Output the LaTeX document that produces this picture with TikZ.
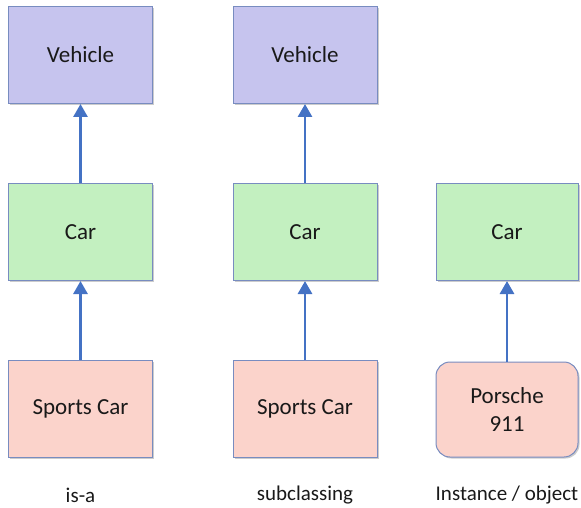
\documentclass[tikz,border=0pt]{standalone}
\usepackage{fontspec}
\setmainfont{Carlito}
\usetikzlibrary{arrows.meta,shadows}
\definecolor{vehfill}{RGB}{198,196,238}
\definecolor{carfill}{RGB}{195,240,192}
\definecolor{sportfill}{RGB}{251,211,203}
\definecolor{boxline}{RGB}{120,140,192}
\definecolor{arrowblue}{RGB}{68,114,196}
\definecolor{txt}{RGB}{25,25,25}
\tikzset{
  box/.style={draw=boxline, line width=1pt, minimum width=144pt, minimum height=97pt,
    inner sep=0pt, text=txt, font=\fontsize{23}{28}\selectfont, align=center,
    drop shadow={shadow xshift=1.5pt, shadow yshift=-1.5pt, fill=black!40, opacity=0.5}},
  veh/.style={box, fill=vehfill},
  car/.style={box, fill=carfill},
  sport/.style={box, fill=sportfill},
  inst/.style={box, fill=sportfill, rounded corners=14pt, minimum width=142pt, minimum height=95pt},
  conn/.style={draw=arrowblue, line width=2.8pt, -{Triangle[length=13pt,width=14pt]}},
  captext/.style={text=txt, font=\fontsize{21}{25}\selectfont}
}
\begin{document}
\begin{tikzpicture}[x=1pt,y=-1pt]
\useasboundingbox (0,0) rectangle (581,508);
\node[veh] (v1) at (80.5,55) {Vehicle};
\node[car] (c1) at (80.5,232) {Car};
\node[sport] (s1) at (80.5,409) {Sports Car};
\node[veh] (v2) at (305,55) {Vehicle};
\node[car] (c2) at (305,232) {Car};
\node[sport] (s2) at (305,409) {Sports Car};
\node[car, minimum width=142pt] (c3) at (507,232) {Car};
\node[inst] (p3) at (507,409.5) {Porsche\\911};
\draw[conn] (c1.north) -- (v1.south);
\draw[conn] (s1.north) -- (c1.south);
\draw[conn] (c2.north) -- (v2.south);
\draw[conn] (s2.north) -- (c2.south);
\draw[conn] (p3.north) -- (c3.south);
\node[captext] (l1) at (80.5,495) {is-a};
\node[captext] (l2) at (305,495) {subclassing};
\node[captext] (l3) at (507,495) {Instance / object};
\end{tikzpicture}
\end{document}
